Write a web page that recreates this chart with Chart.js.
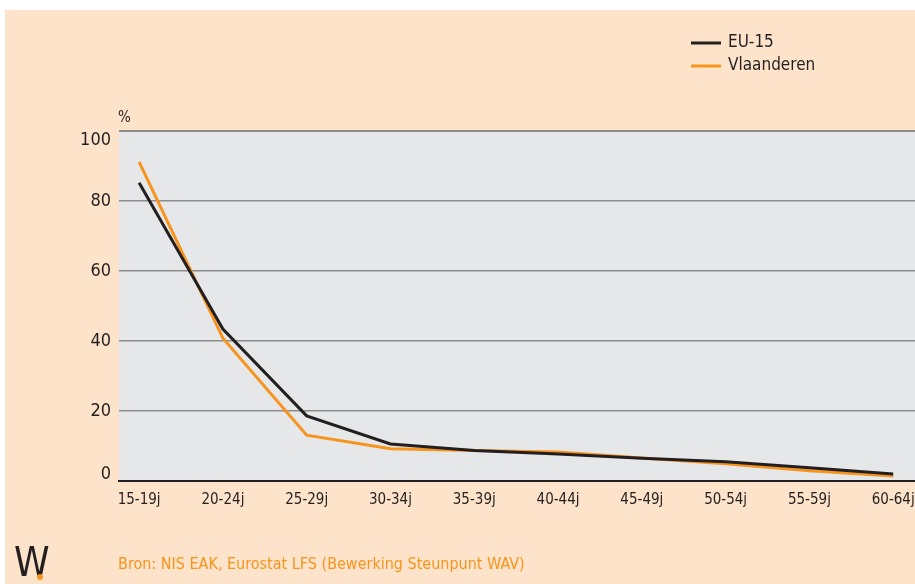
<!DOCTYPE html>
<html>
<head>
<meta charset="utf-8">
<script src="https://cdn.jsdelivr.net/npm/chart.js@4/dist/chart.umd.min.js"></script>
<style>
  html, body { margin: 0; padding: 0; background: #ffffff; }
  #wrap { width: 915px; height: 584px; position: relative; }
</style>
</head>
<body>
<div id="wrap"><canvas id="chart" width="915" height="584"></canvas></div>
<script>
const ageGroups = ['15-19j', '20-24j', '25-29j', '30-34j', '35-39j', '40-44j', '45-49j', '50-54j', '55-59j', '60-64j'];
const eu15 = [85.2, 43.4, 18.6, 10.6, 8.7, 7.7, 6.5, 5.5, 3.8, 2.0];
const vlaanderen = [91.2, 40.8, 13.1, 9.2, 8.7, 8.3, 6.6, 4.9, 2.9, 1.4];
const yTicks = [0, 20, 40, 60, 80, 100];

const FONT = "'Liberation Sans Narrow', 'Arial Narrow', 'DejaVu Sans Condensed', sans-serif";
const PEACH = '#fde3c9';
const ORANGE = '#f7941d';
const DARK = '#231f20';

const decor = {
  id: 'decor',
  beforeDraw(chart) {
    const ctx = chart.ctx;
    const a = chart.chartArea;
    ctx.save();
    ctx.fillStyle = '#ffffff';
    ctx.fillRect(0, 0, chart.width, chart.height);
    ctx.fillStyle = PEACH;
    ctx.fillRect(5, 10, chart.width - 5, chart.height - 10);
    ctx.fillStyle = '#e6e7e8';
    ctx.fillRect(a.left, a.top, a.right - a.left, a.bottom - a.top);
    ctx.restore();
  },
  afterDraw(chart) {
    const ctx = chart.ctx;
    const ys = chart.scales.y;
    ctx.save();
    ctx.textBaseline = 'middle';
    // y tick labels, end labels pulled inside the plot like the original
    ctx.textAlign = 'right';
    ctx.fillStyle = DARK;
    ctx.font = '18px ' + FONT;
    yTicks.forEach(v => {
      let y = ys.getPixelForValue(v);
      if (v === 100) y += 9;
      if (v === 0) y -= 7;
      ctx.fillText(String(v), 111, y);
    });
    ctx.textAlign = 'left';
    // unit
    ctx.font = '15px ' + FONT;
    ctx.fillText('%', 118, 118);
    // legend
    const items = [['EU-15', DARK, 43], ['Vlaanderen', ORANGE, 66]];
    items.forEach(([label, color, y]) => {
      ctx.strokeStyle = color;
      ctx.lineWidth = 3;
      ctx.beginPath();
      ctx.moveTo(691, y);
      ctx.lineTo(721, y);
      ctx.stroke();
      ctx.fillStyle = DARK;
      ctx.font = '17px ' + FONT;
      ctx.fillText(label, 728, y);
    });
    // source
    ctx.fillStyle = ORANGE;
    ctx.font = '16px ' + FONT;
    ctx.fillText('Bron: NIS EAK, Eurostat LFS (Bewerking Steunpunt WAV)', 118, 565);
    // logo
    ctx.fillStyle = DARK;
    ctx.font = '40px ' + FONT;
    ctx.fillText('W', 14, 566);
    ctx.fillStyle = ORANGE;
    ctx.beginPath();
    ctx.arc(40, 577, 3, 0, Math.PI * 2);
    ctx.fill();
    ctx.restore();
  }
};

new Chart(document.getElementById('chart'), {
  type: 'line',
  data: {
    labels: ageGroups,
    datasets: [
      {
        label: 'EU-15',
        data: eu15.map((v, i) => ({ x: i, y: v })),
        borderColor: DARK,
        borderWidth: 3,
        pointRadius: 0,
        tension: 0
      },
      {
        label: 'Vlaanderen',
        data: vlaanderen.map((v, i) => ({ x: i, y: v })),
        borderColor: ORANGE,
        borderWidth: 3,
        pointRadius: 0,
        tension: 0
      }
    ]
  },
  options: {
    responsive: false,
    animation: false,
    devicePixelRatio: 1,
    layout: { padding: { left: 5, top: 131, right: 0, bottom: 0 } },
    plugins: { legend: { display: false }, tooltip: { enabled: false } },
    scales: {
      x: {
        type: 'linear',
        min: -0.24,
        max: 9.26,
        afterBuildTicks: (scale) => { scale.ticks = ageGroups.map((_, i) => ({ value: i })); },
        afterFit: (scale) => { scale.height = 103; scale.paddingLeft = 0; scale.paddingRight = 0; },
        grid: { display: false, drawTicks: false },
        border: { display: true, color: DARK, width: 2 },
        ticks: {
          padding: 10,
          color: DARK,
          font: { family: FONT, size: 15 },
          maxRotation: 0,
          autoSkip: false,
          callback: (v) => ageGroups[v]
        }
      },
      y: {
        min: 0,
        max: 100,
        afterBuildTicks: (scale) => { scale.ticks = yTicks.map(v => ({ value: v })); },
        afterFit: (scale) => { scale.width = 114; scale.paddingTop = 0; scale.paddingBottom = 0; },
        grid: {
          drawTicks: false,
          color: (c) => c.tick && c.tick.value === 0 ? 'rgba(0,0,0,0)' : '#8c8c8c',
          lineWidth: (c) => c.tick && c.tick.value === 100 ? 2 : 1.5
        },
        border: { display: false },
        ticks: { display: false }
      }
    }
  },
  plugins: [decor]
});
</script>
</body>
</html>
